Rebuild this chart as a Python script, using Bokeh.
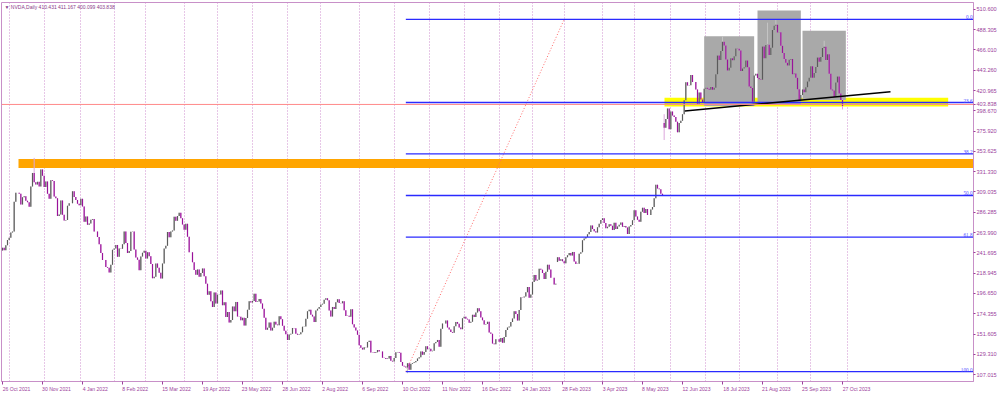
import numpy as np
from bokeh.plotting import figure
from bokeh.models import (Range1d, FixedTicker, PrintfTickFormatter, ColumnDataSource,
                          Span, Label)
from bokeh.embed import file_html
from bokeh.resources import INLINE

# ---------------- data ----------------
closes_by_month = {
    "2021-10": [247.2, 244.5, 250.0, 255.7],
    "2021-11": [258.3, 264.0, 265.0, 298.0, 308.0, 308.0, 307.0, 295.0, 303.0, 304.0, 299.0,
                297.5, 292.6, 315.0, 329.9, 319.6, 317.0, 320.0, 315.0, 333.8, 326.8],
    "2021-12": [314.4, 320.5, 306.9, 301.3, 321.9, 320.9, 303.7, 302.0, 282.3, 283.9, 299.5,
                283.6, 277.2, 277.9, 293.7, 296.4, 296.4, 309.5, 303.2, 300.0, 295.9, 294.1],
    "2022-01": [301.2, 292.9, 276.0, 281.8, 272.5, 274.0, 278.2, 279.0, 265.0, 265.1, 259.0,
                251.0, 241.5, 233.7, 233.7, 226.0, 225.0, 219.9, 228.4, 244.9],
    "2022-02": [246.4, 250.3, 237.1, 246.4, 246.0, 251.1, 265.1, 252.3, 241.3, 243.5, 264.9,
                265.1, 245.1, 236.4, 234.0, 222.4, 237.5, 241.6, 243.9],
    "2022-03": [235.2, 242.2, 237.9, 229.2, 213.5, 215.1, 229.7, 225.1, 219.6, 213.3, 229.7,
                246.2, 249.3, 264.5, 258.7, 265.2, 266.3, 281.5, 276.9, 282.2, 285.9, 279.9, 272.9],
    "2022-04": [267.1, 273.6, 259.3, 242.1, 242.1, 231.2, 222.7, 217.2, 223.2, 215.2, 219.3,
                224.3, 215.6, 207.5, 195.1, 199.0, 187.9, 181.8, 197.7, 185.5],
    "2022-05": [195.3, 195.5, 199.9, 183.7, 186.8, 170.7, 176.0, 164.5, 167.3, 182.2, 177.0,
                187.3, 171.2, 171.0, 166.9, 169.8, 161.1, 169.4, 178.5, 188.1, 186.7],
    "2022-06": [188.3, 196.4, 187.2, 187.8, 190.6, 185.6, 179.7, 169.8, 156.4, 158.8, 164.5,
                155.7, 158.8, 165.4, 162.2, 161.5, 171.3, 168.2, 160.8, 155.4, 151.6],
    "2022-07": [145.2, 151.3, 152.0, 158.5, 158.1, 152.2, 151.0, 151.5, 153.7, 159.9, 160.2,
                168.6, 177.0, 178.7, 173.2, 171.2, 165.0, 177.9, 179.6, 181.6],
    "2022-08": [184.4, 185.3, 189.6, 191.2, 189.2, 177.9, 171.1, 181.8, 179.4, 187.0, 190.2,
                186.2, 185.8, 188.0, 178.0, 171.8, 172.1, 171.0, 179.2, 162.6, 159.1, 155.7, 150.9],
    "2022-09": [139.4, 136.5, 134.6, 137.1, 137.0, 143.1, 144.4, 131.3, 131.5, 130.9, 131.6,
                134.0, 132.6, 132.6, 125.6, 125.2, 124.1, 124.6, 127.6, 122.2, 121.4],
    "2022-10": [125.3, 131.6, 132.0, 131.2, 120.8, 116.7, 115.9, 114.8, 119.6, 112.3, 118.9,
                119.7, 120.5, 121.9, 124.7, 126.0, 132.6, 129.0, 131.8, 138.3, 135.0],
    "2022-11": [135.4, 132.7, 133.2, 141.6, 143.1, 145.3, 137.8, 157.5, 163.3, 163.3, 166.7,
                159.1, 156.8, 154.1, 153.2, 160.4, 165.2, 163.2, 158.9, 157.2, 169.2],
    "2022-12": [171.0, 168.8, 167.9, 164.2, 165.3, 173.0, 170.6, 175.5, 180.3, 176.9, 170.1,
                166.9, 162.4, 162.8, 165.4, 153.5, 152.1, 141.2, 140.4, 146.0, 146.1],
    "2023-01": [143.2, 147.5, 142.1, 148.6, 156.3, 159.1, 160.0, 165.1, 169.0, 177.0, 173.8,
                166.6, 178.4, 192.4, 192.1, 193.2, 198.0, 203.7, 191.9, 195.4],
    "2023-02": [209.4, 217.1, 211.0, 211.7, 224.0, 222.9, 219.2, 212.7, 220.5, 228.4, 223.0,
                213.9, 213.9, 206.5, 207.5, 236.6, 232.9, 234.4, 232.2],
    "2023-03": [229.9, 236.6, 238.9, 241.3, 238.6, 242.6, 232.0, 229.2, 229.4, 240.6, 242.3,
                255.4, 257.3, 259.0, 262.0, 264.7, 271.9, 267.8, 265.3, 264.1, 269.8, 273.8, 277.8],
    "2023-04": [279.7, 274.5, 268.8, 270.4, 273.2, 271.4, 266.7, 274.8, 267.9, 270.7, 272.6,
                275.0, 270.3, 271.3, 269.6, 262.4, 270.6, 272.3, 277.5],
    "2023-05": [288.6, 281.6, 278.1, 275.9, 287.0, 291.4, 285.7, 289.9, 283.4, 283.4, 289.5,
                292.1, 301.8, 316.8, 312.6, 311.8, 306.9, 305.4, 379.8, 389.5, 401.1, 378.3],
    "2023-06": [397.7, 393.3, 391.7, 386.5, 374.8, 385.1, 387.7, 394.8, 410.2, 430.0, 426.5,
                426.9, 438.1, 430.3, 430.3, 422.1, 406.3, 418.8, 411.2, 408.2, 423.0],
    "2023-07": [424.1, 423.0, 421.8, 425.0, 421.8, 424.0, 439.0, 459.8, 454.7, 464.6, 474.9,
                470.8, 455.2, 443.1, 446.1, 456.8, 454.5, 459.0, 467.5, 467.3],
    "2023-08": [465.1, 442.7, 445.2, 446.8, 454.2, 446.6, 425.5, 423.9, 408.6, 437.5, 439.4,
                434.9, 433.4, 433.0, 469.7, 456.7, 471.2, 471.6, 460.2, 468.4, 487.8, 492.6, 493.6],
    "2023-09": [485.1, 485.5, 470.6, 462.4, 455.7, 451.8, 448.7, 454.9, 455.8, 439.0, 439.7,
                435.2, 422.4, 410.2, 416.1, 422.2, 419.1, 424.7, 430.9, 435.0],
    "2023-10": [447.8, 435.2, 440.4, 446.9, 457.6, 452.7, 458.0, 468.1, 469.5, 454.6, 461.0,
                439.4, 422.0, 421.0, 413.9, 429.8, 436.6, 417.8, 410.431, 403.838],
}
first_open = 244.0
gap_opens = {("2023-02", 15): 231.3, ("2023-05", 18): 385.2}
wick_highs = {("2021-11", 15): 346.5, ("2023-05", 18): 394.8, ("2023-07", 10): 480.9,
              ("2023-08", 17): 496.0, ("2023-08", 22): 499.0, ("2023-10", 8): 476.0,
              ("2023-10", 19): 411.167}
wick_lows = {("2022-10", 8): 108.5, ("2023-05", 18): 366.3, ("2023-10", 19): 400.099}
trading_days_to_next_month = 2  # Oct 30, Oct 31 2023 before the Nov 2023 separator

date_labels = ["26 Oct 2021", "30 Nov 2021", "4 Jan 2022", "8 Feb 2022", "15 Mar 2022",
               "19 Apr 2022", "23 May 2022", "28 Jun 2022", "2 Aug 2022", "6 Sep 2022",
               "10 Oct 2022", "11 Nov 2022", "16 Dec 2022", "24 Jan 2023", "28 Feb 2023",
               "3 Apr 2023", "8 May 2023", "12 Jun 2023", "18 Jul 2023", "21 Aug 2023",
               "25 Sep 2023", "27 Oct 2023"]
label_step = 24
price_ticks = [107.015, 129.310, 151.605, 174.355, 196.650, 218.945, 241.695, 263.990,
               286.285, 309.035, 331.330, 353.625, 375.920, 398.670, 420.965, 443.260,
               466.010, 488.305, 510.600]

fib_low = (242, 110.3)     # (bar index, price)
fib_high = (337, 499.6)
fib_ratios = [0.0, 23.6, 38.2, 50.0, 61.8, 100.0]
resistance_zone = (9.6, 335.4, 345.3)           # start bar, bottom, top
support_zone = (397.2, 567.4, 403.2, 413.1)     # left, right, bottom, top
hs_boxes_left = [421, 453, 480]
hs_boxes_right = [451, 479, 506]
hs_boxes_bottom = [403.9, 405.8, 410.5]
hs_boxes_top = [480.9, 509.5, 487.2]
neck_x = [409.4, 532.8]
neck_y = [398.4, 419.7]
bid_line = 405.6
last_price_text = "403.838"
header_text = "\u25BC NVDA,Daily  410.431 411.167 400.099 403.838"

# ---------------- build OHLC ----------------
opens, closes, highs, lows, month_starts = [], [], [], [], []
prev = first_open
for m, vals in closes_by_month.items():
    if m != "2021-10":
        month_starts.append(len(closes))
    for k, c in enumerate(vals):
        o = gap_opens.get((m, k), prev)
        h = max(o, c, wick_highs.get((m, k), -1e9))
        lo = min(o, c, wick_lows.get((m, k), 1e9))
        opens.append(o); closes.append(c); highs.append(h); lows.append(lo)
        prev = c
n = len(closes)
month_starts.append(n + trading_days_to_next_month)

o = np.array(opens); c = np.array(closes)
up = c >= o
BULL, BULL_W = "#5a5a5a", "#c4c4c4"
BEAR, BEAR_W = "#9a129a", "#dca6dc"
src = ColumnDataSource(dict(
    x=np.arange(n), top=np.maximum(o, c), bottom=np.minimum(o, c),
    hi=highs, lo=lows,
    body=[BULL if u else BEAR for u in up],
    wick=[BULL_W if u else BEAR_W for u in up]))

# ---------------- figure ----------------
W, H = 1000, 394
BL, BT, BR, BB = 1, 2, 27, 11
x_start, x_end = -0.6, 582.6
y_start, y_end = 99.3, 518.3
AX = "#9c3f9c"
FRAME = "#c890c8"
FONT = "Liberation Sans"

p = figure(width=W, height=H, x_range=Range1d(x_start, x_end), y_range=Range1d(y_start, y_end),
           output_backend="svg", toolbar_location=None, y_axis_location="right",
           min_border_left=BL, min_border_top=BT, min_border_right=BR, min_border_bottom=BB)
p.background_fill_color = "white"
p.border_fill_color = "white"
p.outline_line_color = FRAME
p.outline_line_width = 1

p.ygrid.visible = False
p.xgrid.ticker = FixedTicker(ticks=month_starts)
p.xgrid.grid_line_color = "#cf8fcf"
p.xgrid.grid_line_dash = "1 2"
p.xgrid.grid_line_width = 1

# right price axis (the last price shown at the bid line)
p.yaxis.ticker = FixedTicker(ticks=price_ticks + [bid_line])
p.yaxis.formatter = PrintfTickFormatter(format="%.3f")
p.yaxis.major_label_overrides = {bid_line: last_price_text}
p.yaxis.major_label_text_font_size = "5.6px"
p.yaxis.major_label_text_font = FONT
p.yaxis.major_label_text_color = AX
p.yaxis.axis_line_color = FRAME
p.yaxis.major_tick_line_color = AX
p.yaxis.major_tick_out = 2
p.yaxis.major_tick_in = 0
p.yaxis.minor_tick_line_color = None
p.yaxis.major_label_standoff = 1

# bottom time axis: tick marks at the bar, text starting at the tick
font_px = 5.1
px_per_bar = (W - BL - BR) / (x_end - x_start)
tick_idx = [label_step * i for i in range(len(date_labels))]
label_pos = [round(t + 0.5 * len(s) * 0.5 * font_px / px_per_bar, 2)
             for t, s in zip(tick_idx, date_labels)]
p.xaxis.ticker = FixedTicker(ticks=label_pos, minor_ticks=tick_idx)
p.xaxis.major_label_overrides = {pos: s for pos, s in zip(label_pos, date_labels)}
p.xaxis.major_label_text_font_size = "%.1fpx" % font_px
p.xaxis.major_label_text_font = FONT
p.xaxis.major_label_text_color = AX
p.xaxis.axis_line_color = FRAME
p.xaxis.major_tick_line_color = None
p.xaxis.major_tick_out = 2
p.xaxis.major_tick_in = 0
p.xaxis.minor_tick_line_color = AX
p.xaxis.minor_tick_out = 3
p.xaxis.minor_tick_in = 0
p.xaxis.major_label_standoff = 1

# zones and pattern boxes (under candles)
p.quad(left=resistance_zone[0], right=x_end, bottom=resistance_zone[1], top=resistance_zone[2],
       fill_color="#ffa500", line_color=None)
p.quad(left=support_zone[0], right=support_zone[1], bottom=support_zone[2], top=support_zone[3],
       fill_color="#ffff00", line_color=None)
p.quad(left=hs_boxes_left, right=hs_boxes_right, bottom=hs_boxes_bottom, top=hs_boxes_top,
       fill_color="#a9a9a9", line_color=None)

# fibonacci
fib_levels = [fib_high[1] - r / 100.0 * (fib_high[1] - fib_low[1]) for r in fib_ratios]
p.line([fib_low[0], fib_high[0]], [fib_low[1], fib_high[1]], line_color="#ff6a6a",
       line_dash="1 2", line_width=1)

# candles
p.segment(x0="x", y0="lo", x1="x", y1="hi", line_color="wick", line_width=1, source=src)
p.vbar(x="x", width=0.72, top="top", bottom="bottom", fill_color="body", line_color=None,
       source=src)

p.ray(x=[fib_low[0]] * len(fib_levels), y=fib_levels, length=0, angle=0,
      line_color="#2a2aff", line_width=1.3)
p.text(x=[x_end] * len(fib_levels), y=fib_levels, text=["%.1f" % r for r in fib_ratios],
       text_align="right", text_baseline="bottom", x_offset=-1, y_offset=0,
       text_font_size="5.2px", text_color="#4b4bff", text_font=FONT)

# neckline
p.line(neck_x, neck_y, line_color="black", line_width=1.5)

# bid line
p.add_layout(Span(location=bid_line, dimension="width", line_color="#ff8a8a", line_width=1))

# header
p.add_layout(Label(x=x_start, y=y_end, x_offset=3, y_offset=-1, text=header_text,
                   text_baseline="top", text_align="left", text_font_size="5px",
                   text_color="#8a3a8a", text_font=FONT))

open("out.html", "w").write(file_html(p, INLINE))
